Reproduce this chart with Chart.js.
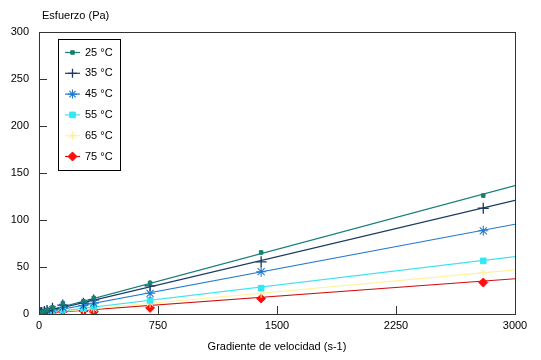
<!DOCTYPE html>
<html>
<head>
<meta charset="utf-8">
<script src="https://cdn.jsdelivr.net/npm/chart.js@4/dist/chart.umd.min.js"></script>
<style>
html,body{margin:0;padding:0;background:#fff;}
#wrap{width:541px;height:360px;position:relative;}
</style>
</head>
<body>
<div id="wrap"><canvas id="c" width="541" height="360"></canvas></div>
<script>
// ---- data ----
const shearRates = [5, 10, 17, 34, 51, 85, 150, 280, 345, 700, 1400, 2800];
const temperatures = ['25 °C', '35 °C', '45 °C', '55 °C', '65 °C', '75 °C'];
const stress25 = [1.0, 1.5, 2.0, 3.0, 4.5, 7.0, 11.5, 13.5, 17.0, 33.0, 65.5, 126.0];
const stress35 = [0.8, 1.2, 1.7, 2.6, 3.8, 6.0, 9.5, 11.5, 15.0, 30.0, 55.5, 112.5];
const stress45 = [0.6, 1.0, 1.4, 2.0, 3.0, 4.6, 7.0, 9.0, 11.5, 22.0, 45.0, 88.5];
const stress55 = [0.4, 0.6, 0.9, 1.3, 1.8, 2.8, 4.3, 6.0, 7.5, 14.5, 27.5, 56.5];
const stress65 = [0.3, 0.5, 0.7, 1.0, 1.4, 2.2, 3.4, 4.8, 5.8, 11.5, 22.0, 44.0];
const stress75 = [0.2, 0.4, 0.6, 0.8, 1.1, 1.7, 2.6, 3.2, 2.5, 6.5, 16.5, 33.5];
// trend line end points (x = 0 and x = 3000)
const fitX = [0, 3000];
const fit25 = [1.0, 136.5];
const fit35 = [1.0, 121.0];
const fit45 = [0.5, 95.5];
const fit55 = [0.5, 61.0];
const fit65 = [0.5, 47.0];
const fit75 = [0.5, 37.5];
const xTicks = [0, 750, 1500, 2250, 3000];
const yTicks = [0, 50, 100, 150, 200, 250, 300];

const series = [stress25, stress35, stress45, stress55, stress65, stress75];
const fits = [fit25, fit35, fit45, fit55, fit65, fit75];
const lineColors = ['#1a7f7a', '#1b3a63', '#2379cf', '#3fe3ee', '#fff3a0', '#d01010'];
const markColors = ['#15806f', '#1b3a63', '#2379cf', '#33e8f5', '#fff0a0', '#ff0d0d'];
const markStyles = ['rect', 'cross', 'star', 'rect', 'star', 'rectRot'];
const markRadius = [2.5, 5.5, 5, 4, 4.5, 4.5];
const markBorder = [1, 1.3, 1.1, 1, 1, 1];

const datasets = [];
fits.forEach((f, i) => {
  datasets.push({
    type: 'line', label: temperatures[i] + ' fit',
    data: fitX.map((x, k) => ({x: x, y: f[k]})),
    borderColor: lineColors[i], borderWidth: 1.2, pointRadius: 0, fill: false, order: 10
  });
});
series.forEach((s, i) => {
  datasets.push({
    type: 'scatter', label: temperatures[i],
    data: shearRates.map((x, k) => ({x: x, y: s[k]})),
    pointStyle: markStyles[i], pointRadius: markRadius[i], pointHoverRadius: markRadius[i],
    backgroundColor: markColors[i], borderColor: markColors[i], pointBorderWidth: markBorder[i],
    borderWidth: markBorder[i], order: 1
  });
});

const FONT = 'Liberation Sans, Arial, sans-serif';

function drawMarker(ctx, style, r, bw, color, x, y) {
  if (Chart.helpers && Chart.helpers.drawPoint) {
    ctx.save();
    ctx.fillStyle = color; ctx.strokeStyle = color; ctx.lineWidth = bw;
    Chart.helpers.drawPoint(ctx, {pointStyle: style, radius: r, borderWidth: bw, rotation: 0}, x, y);
    ctx.restore();
  }
}

const decor = {
  id: 'decor',
  afterDraw(chart) {
    const ctx = chart.ctx, a = chart.chartArea;
    const xs = chart.scales.x, ys = chart.scales.y;
    ctx.save();
    ctx.strokeStyle = '#333';
    ctx.lineWidth = 1;
    ctx.strokeRect(Math.round(a.left) + 0.5, Math.round(a.top) + 0.5,
                   Math.round(a.right - a.left), Math.round(a.bottom - a.top));
    ctx.beginPath();
    xTicks.forEach(v => {
      const px = Math.round(xs.getPixelForValue(v)) + 0.5;
      ctx.moveTo(px, a.bottom); ctx.lineTo(px, a.bottom - 8);
    });
    yTicks.forEach(v => {
      const py = Math.round(ys.getPixelForValue(v)) + 0.5;
      ctx.moveTo(a.left, py); ctx.lineTo(a.left + 8, py);
    });
    ctx.stroke();
    // y axis title
    ctx.fillStyle = '#000';
    ctx.font = '11px ' + FONT;
    ctx.textAlign = 'left';
    ctx.textBaseline = 'middle';
    ctx.fillText('Esfuerzo (Pa)', 42, 16);
    // legend
    ctx.fillStyle = '#fff';
    ctx.fillRect(58.5, 39.5, 62, 131);
    ctx.strokeStyle = '#000';
    ctx.strokeRect(58.5, 39.5, 62, 131);
    temperatures.forEach((t, i) => {
      const y = 52.5 + i * 20.8;
      ctx.strokeStyle = lineColors[i];
      ctx.lineWidth = 1.2;
      ctx.beginPath(); ctx.moveTo(65, y); ctx.lineTo(80, y); ctx.stroke();
      drawMarker(ctx, markStyles[i], Math.min(markRadius[i], 4.5), markBorder[i], markColors[i], 72.5, y);
      ctx.fillStyle = '#000';
      ctx.font = '11px ' + FONT;
      ctx.textAlign = 'left';
      ctx.textBaseline = 'middle';
      ctx.fillText(t, 85, y);
    });
    ctx.restore();
  }
};

new Chart(document.getElementById('c'), {
  type: 'scatter',
  data: {datasets: datasets},
  options: {
    responsive: false,
    animation: false,
    devicePixelRatio: 1,
    layout: {padding: {top: 32, right: 26, left: 0, bottom: 0}},
    plugins: {legend: {display: false}, tooltip: {enabled: false}},
    scales: {
      x: {
        type: 'linear', min: 0, max: 3000,
        afterBuildTicks: s => { s.ticks = xTicks.map(v => ({value: v})); },
        afterFit: s => { s.height = 46; },
        grid: {display: false, drawTicks: false},
        border: {display: false},
        ticks: {color: '#000', font: {size: 11, family: FONT}, padding: 5, maxRotation: 0,
                callback: v => String(v)},
        title: {display: true, text: 'Gradiente de velocidad (s-1)', color: '#000',
                font: {size: 11, family: FONT}, padding: {top: 0, bottom: 6}}
      },
      y: {
        type: 'linear', min: 0, max: 300,
        afterBuildTicks: s => { s.ticks = yTicks.map(v => ({value: v})); },
        afterFit: s => { s.width = 39; },
        grid: {display: false, drawTicks: false},
        border: {display: false},
        ticks: {color: '#000', font: {size: 11, family: FONT}, padding: 10,
                callback: v => String(v)}
      }
    }
  },
  plugins: [decor]
});
</script>
</body>
</html>
